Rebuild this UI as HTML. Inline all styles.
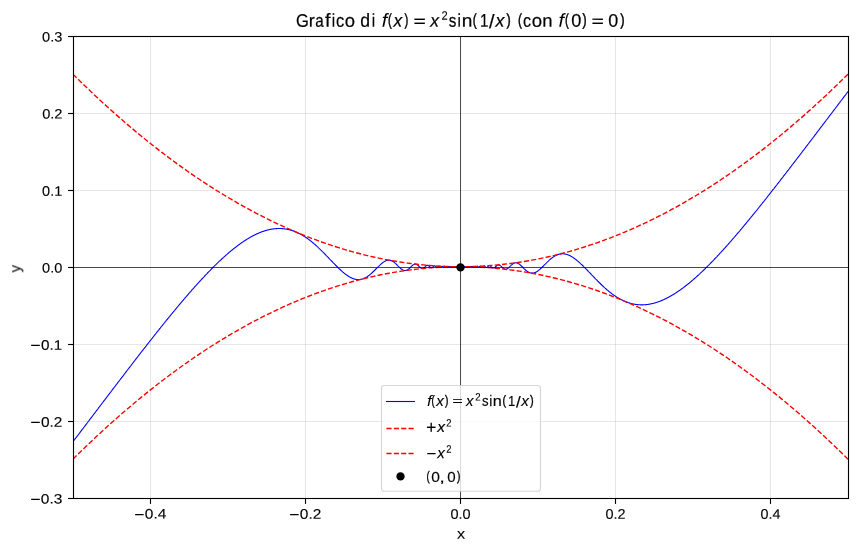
<!DOCTYPE html>
<html><head><meta charset="utf-8"><title>Grafico</title>
<style>
html,body{margin:0;padding:0;background:#fff;}
body{width:857px;height:551px;overflow:hidden;font-family:"Liberation Sans",sans-serif;}
svg{display:block;}
text{font-family:"Liberation Sans",sans-serif;fill:#000;}
</style></head><body>
<svg width="857" height="551" viewBox="0 0 857 551">
<rect width="857" height="551" fill="#fff"/>
<defs><clipPath id="ax"><rect x="73.5" y="36.5" width="775.0" height="462.0"/></clipPath></defs>
<g stroke="#b0b0b0" stroke-opacity="0.3" stroke-width="1.11" fill="none"><line x1="150.5" y1="36.5" x2="150.5" y2="498.5"/><line x1="305.5" y1="36.5" x2="305.5" y2="498.5"/><line x1="460.5" y1="36.5" x2="460.5" y2="498.5"/><line x1="615.5" y1="36.5" x2="615.5" y2="498.5"/><line x1="770.5" y1="36.5" x2="770.5" y2="498.5"/><line x1="73.5" y1="36.5" x2="848.5" y2="36.5"/><line x1="73.5" y1="113.5" x2="848.5" y2="113.5"/><line x1="73.5" y1="190.5" x2="848.5" y2="190.5"/><line x1="73.5" y1="267.5" x2="848.5" y2="267.5"/><line x1="73.5" y1="344.5" x2="848.5" y2="344.5"/><line x1="73.5" y1="421.5" x2="848.5" y2="421.5"/><line x1="73.5" y1="498.5" x2="848.5" y2="498.5"/></g>
<g clip-path="url(#ax)" fill="none">
<path d="M73.0,441.72 73.2,441.38 73.5,441.04 73.7,440.70 74.0,440.36 74.2,440.02 74.5,439.68 74.8,439.34 75.0,439.00 75.3,438.66 75.5,438.32 75.8,437.98 76.1,437.64 76.3,437.30 76.6,436.96 76.8,436.62 77.1,436.28 77.3,435.93 77.6,435.59 77.9,435.25 78.1,434.91 78.4,434.57 78.6,434.23 78.9,433.89 79.2,433.55 79.4,433.21 79.7,432.87 79.9,432.53 80.2,432.19 80.4,431.85 80.7,431.51 81.0,431.17 81.2,430.83 81.5,430.49 81.7,430.15 82.0,429.81 82.3,429.47 82.5,429.13 82.8,428.78 83.0,428.44 83.3,428.10 83.5,427.76 83.8,427.42 84.1,427.08 84.3,426.74 84.6,426.40 84.8,426.06 85.1,425.72 85.4,425.38 85.6,425.04 85.9,424.70 86.1,424.36 86.4,424.02 86.6,423.68 86.9,423.34 87.2,422.99 87.4,422.65 87.7,422.31 87.9,421.97 88.2,421.63 88.5,421.29 88.7,420.95 89.0,420.61 89.2,420.27 89.5,419.93 89.7,419.59 90.0,419.25 90.3,418.91 90.5,418.57 90.8,418.23 91.0,417.89 91.3,417.55 91.6,417.20 91.8,416.86 92.1,416.52 92.3,416.18 92.6,415.84 92.8,415.50 93.1,415.16 93.4,414.82 93.6,414.48 93.9,414.14 94.1,413.80 94.4,413.46 94.7,413.12 94.9,412.78 95.2,412.44 95.4,412.10 95.7,411.76 95.9,411.42 96.2,411.07 96.5,410.73 96.7,410.39 97.0,410.05 97.2,409.71 97.5,409.37 97.8,409.03 98.0,408.69 98.3,408.35 98.5,408.01 98.8,407.67 99.0,407.33 99.3,406.99 99.6,406.65 99.8,406.31 100.1,405.97 100.3,405.63 100.6,405.29 100.8,404.95 101.1,404.61 101.4,404.27 101.6,403.93 101.9,403.59 102.1,403.25 102.4,402.91 102.7,402.57 102.9,402.23 103.2,401.89 103.4,401.55 103.7,401.21 103.9,400.87 104.2,400.53 104.5,400.19 104.7,399.85 105.0,399.51 105.2,399.17 105.5,398.83 105.8,398.49 106.0,398.15 106.3,397.81 106.5,397.47 106.8,397.13 107.0,396.79 107.3,396.45 107.6,396.11 107.8,395.77 108.1,395.43 108.3,395.09 108.6,394.75 108.9,394.41 109.1,394.07 109.4,393.73 109.6,393.39 109.9,393.05 110.1,392.71 110.4,392.37 110.7,392.03 110.9,391.69 111.2,391.35 111.4,391.01 111.7,390.67 112.0,390.34 112.2,390.00 112.5,389.66 112.7,389.32 113.0,388.98 113.2,388.64 113.5,388.30 113.8,387.96 114.0,387.62 114.3,387.28 114.5,386.94 114.8,386.61 115.1,386.27 115.3,385.93 115.6,385.59 115.8,385.25 116.1,384.91 116.3,384.57 116.6,384.23 116.9,383.90 117.1,383.56 117.4,383.22 117.6,382.88 117.9,382.54 118.2,382.20 118.4,381.86 118.7,381.53 118.9,381.19 119.2,380.85 119.5,380.51 119.7,380.17 120.0,379.83 120.2,379.50 120.5,379.16 120.7,378.82 121.0,378.48 121.3,378.14 121.5,377.81 121.8,377.47 122.0,377.13 122.3,376.79 122.6,376.46 122.8,376.12 123.1,375.78 123.3,375.44 123.6,375.11 123.8,374.77 124.1,374.43 124.4,374.09 124.6,373.76 124.9,373.42 125.1,373.08 125.4,372.75 125.7,372.41 125.9,372.07 126.2,371.73 126.4,371.40 126.7,371.06 126.9,370.72 127.2,370.39 127.5,370.05 127.7,369.71 128.0,369.38 128.2,369.04 128.5,368.70 128.8,368.37 129.0,368.03 129.3,367.70 129.5,367.36 129.8,367.02 130.0,366.69 130.3,366.35 130.6,366.02 130.8,365.68 131.1,365.34 131.3,365.01 131.6,364.67 131.9,364.34 132.1,364.00 132.4,363.67 132.6,363.33 132.9,363.00 133.1,362.66 133.4,362.33 133.7,361.99 133.9,361.66 134.2,361.32 134.4,360.99 134.7,360.65 135.0,360.32 135.2,359.98 135.5,359.65 135.7,359.31 136.0,358.98 136.2,358.65 136.5,358.31 136.8,357.98 137.0,357.64 137.3,357.31 137.5,356.98 137.8,356.64 138.1,356.31 138.3,355.98 138.6,355.64 138.8,355.31 139.1,354.98 139.3,354.64 139.6,354.31 139.9,353.98 140.1,353.64 140.4,353.31 140.6,352.98 140.9,352.65 141.1,352.31 141.4,351.98 141.7,351.65 141.9,351.32 142.2,350.98 142.4,350.65 142.7,350.32 143.0,349.99 143.2,349.66 143.5,349.32 143.7,348.99 144.0,348.66 144.2,348.33 144.5,348.00 144.8,347.67 145.0,347.34 145.3,347.01 145.5,346.68 145.8,346.34 146.1,346.01 146.3,345.68 146.6,345.35 146.8,345.02 147.1,344.69 147.3,344.36 147.6,344.03 147.9,343.70 148.1,343.37 148.4,343.04 148.6,342.71 148.9,342.39 149.2,342.06 149.4,341.73 149.7,341.40 149.9,341.07 150.2,340.74 150.4,340.41 150.7,340.08 151.0,339.75 151.2,339.43 151.5,339.10 151.7,338.77 152.0,338.44 152.3,338.12 152.5,337.79 152.8,337.46 153.0,337.13 153.3,336.81 153.5,336.48 153.8,336.15 154.1,335.83 154.3,335.50 154.6,335.17 154.8,334.85 155.1,334.52 155.4,334.19 155.6,333.87 155.9,333.54 156.1,333.22 156.4,332.89 156.6,332.57 156.9,332.24 157.2,331.92 157.4,331.59 157.7,331.27 157.9,330.94 158.2,330.62 158.5,330.29 158.7,329.97 159.0,329.64 159.2,329.32 159.5,329.00 159.8,328.67 160.0,328.35 160.3,328.03 160.5,327.70 160.8,327.38 161.0,327.06 161.3,326.74 161.6,326.41 161.8,326.09 162.1,325.77 162.3,325.45 162.6,325.13 162.8,324.80 163.1,324.48 163.4,324.16 163.6,323.84 163.9,323.52 164.1,323.20 164.4,322.88 164.7,322.56 164.9,322.24 165.2,321.92 165.4,321.60 165.7,321.28 165.9,320.96 166.2,320.64 166.5,320.32 166.7,320.00 167.0,319.69 167.2,319.37 167.5,319.05 167.8,318.73 168.0,318.41 168.3,318.10 168.5,317.78 168.8,317.46 169.1,317.14 169.3,316.83 169.6,316.51 169.8,316.19 170.1,315.88 170.3,315.56 170.6,315.25 170.9,314.93 171.1,314.62 171.4,314.30 171.6,313.99 171.9,313.67 172.2,313.36 172.4,313.04 172.7,312.73 172.9,312.41 173.2,312.10 173.4,311.79 173.7,311.47 174.0,311.16 174.2,310.85 174.5,310.54 174.7,310.22 175.0,309.91 175.2,309.60 175.5,309.29 175.8,308.98 176.0,308.67 176.3,308.35 176.5,308.04 176.8,307.73 177.1,307.42 177.3,307.11 177.6,306.80 177.8,306.49 178.1,306.19 178.4,305.88 178.6,305.57 178.9,305.26 179.1,304.95 179.4,304.64 179.6,304.34 179.9,304.03 180.2,303.72 180.4,303.41 180.7,303.11 180.9,302.80 181.2,302.50 181.5,302.19 181.7,301.88 182.0,301.58 182.2,301.27 182.5,300.97 182.7,300.67 183.0,300.36 183.3,300.06 183.5,299.75 183.8,299.45 184.0,299.15 184.3,298.84 184.6,298.54 184.8,298.24 185.1,297.94 185.3,297.64 185.6,297.34 185.8,297.03 186.1,296.73 186.4,296.43 186.6,296.13 186.9,295.83 187.1,295.53 187.4,295.24 187.7,294.94 187.9,294.64 188.2,294.34 188.4,294.04 188.7,293.74 188.9,293.45 189.2,293.15 189.5,292.85 189.7,292.56 190.0,292.26 190.2,291.97 190.5,291.67 190.8,291.38 191.0,291.08 191.3,290.79 191.5,290.49 191.8,290.20 192.0,289.91 192.3,289.61 192.6,289.32 192.8,289.03 193.1,288.74 193.3,288.44 193.6,288.15 193.9,287.86 194.1,287.57 194.4,287.28 194.6,286.99 194.9,286.70 195.1,286.41 195.4,286.12 195.7,285.84 195.9,285.55 196.2,285.26 196.4,284.97 196.7,284.69 197.0,284.40 197.2,284.11 197.5,283.83 197.7,283.54 198.0,283.26 198.2,282.97 198.5,282.69 198.8,282.41 199.0,282.12 199.3,281.84 199.5,281.56 199.8,281.27 200.1,280.99 200.3,280.71 200.6,280.43 200.8,280.15 201.1,279.87 201.3,279.59 201.6,279.31 201.9,279.03 202.1,278.75 202.4,278.48 202.6,278.20 202.9,277.92 203.2,277.64 203.4,277.37 203.7,277.09 203.9,276.82 204.2,276.54 204.4,276.27 204.7,275.99 205.0,275.72 205.2,275.45 205.5,275.17 205.7,274.90 206.0,274.63 206.2,274.36 206.5,274.09 206.8,273.82 207.0,273.55 207.3,273.28 207.5,273.01 207.8,272.74 208.1,272.47 208.3,272.20 208.6,271.94 208.8,271.67 209.1,271.40 209.4,271.14 209.6,270.87 209.9,270.61 210.1,270.34 210.4,270.08 210.6,269.82 210.9,269.55 211.2,269.29 211.4,269.03 211.7,268.77 211.9,268.51 212.2,268.25 212.4,267.99 212.7,267.73 213.0,267.47 213.2,267.21 213.5,266.96 213.7,266.70 214.0,266.44 214.3,266.19 214.5,265.93 214.8,265.68 215.0,265.42 215.3,265.17 215.6,264.91 215.8,264.66 216.1,264.41 216.3,264.16 216.6,263.91 216.8,263.66 217.1,263.41 217.4,263.16 217.6,262.91 217.9,262.66 218.1,262.41 218.4,262.17 218.6,261.92 218.9,261.68 219.2,261.43 219.4,261.19 219.7,260.94 219.9,260.70 220.2,260.46 220.5,260.21 220.7,259.97 221.0,259.73 221.2,259.49 221.5,259.25 221.8,259.01 222.0,258.77 222.3,258.54 222.5,258.30 222.8,258.06 223.0,257.83 223.3,257.59 223.6,257.36 223.8,257.12 224.1,256.89 224.3,256.66 224.6,256.43 224.9,256.20 225.1,255.96 225.4,255.73 225.6,255.51 225.9,255.28 226.1,255.05 226.4,254.82 226.7,254.60 226.9,254.37 227.2,254.14 227.4,253.92 227.7,253.70 227.9,253.47 228.2,253.25 228.5,253.03 228.7,252.81 229.0,252.59 229.2,252.37 229.5,252.15 229.8,251.93 230.0,251.72 230.3,251.50 230.5,251.28 230.8,251.07 231.0,250.85 231.3,250.64 231.6,250.43 231.8,250.22 232.1,250.00 232.3,249.79 232.6,249.58 232.9,249.38 233.1,249.17 233.4,248.96 233.6,248.75 233.9,248.55 234.1,248.34 234.4,248.14 234.7,247.94 234.9,247.73 235.2,247.53 235.4,247.33 235.7,247.13 236.0,246.93 236.2,246.73 236.5,246.53 236.7,246.34 237.0,246.14 237.2,245.95 237.5,245.75 237.8,245.56 238.0,245.37 238.3,245.17 238.5,244.98 238.8,244.79 239.1,244.60 239.3,244.42 239.6,244.23 239.8,244.04 240.1,243.86 240.3,243.67 240.6,243.49 240.9,243.30 241.1,243.12 241.4,242.94 241.6,242.76 241.9,242.58 242.2,242.40 242.4,242.22 242.7,242.05 242.9,241.87 243.2,241.70 243.4,241.52 243.7,241.35 244.0,241.18 244.2,241.01 244.5,240.84 244.7,240.67 245.0,240.50 245.3,240.33 245.5,240.17 245.8,240.00 246.0,239.84 246.3,239.67 246.6,239.51 246.8,239.35 247.1,239.19 247.3,239.03 247.6,238.87 247.8,238.71 248.1,238.56 248.4,238.40 248.6,238.25 248.9,238.10 249.1,237.94 249.4,237.79 249.6,237.64 249.9,237.49 250.2,237.34 250.4,237.20 250.7,237.05 250.9,236.91 251.2,236.76 251.5,236.62 251.7,236.48 252.0,236.34 252.2,236.20 252.5,236.06 252.8,235.92 253.0,235.79 253.3,235.65 253.5,235.52 253.8,235.38 254.0,235.25 254.3,235.12 254.6,234.99 254.8,234.86 255.1,234.74 255.3,234.61 255.6,234.48 255.8,234.36 256.1,234.24 256.4,234.12 256.6,234.00 256.9,233.88 257.1,233.76 257.4,233.64 257.7,233.53 257.9,233.41 258.2,233.30 258.4,233.19 258.7,233.08 258.9,232.97 259.2,232.86 259.5,232.75 259.7,232.64 260.0,232.54 260.2,232.44 260.5,232.33 260.8,232.23 261.0,232.13 261.3,232.03 261.5,231.94 261.8,231.84 262.1,231.75 262.3,231.65 262.6,231.56 262.8,231.47 263.1,231.38 263.3,231.29 263.6,231.20 263.9,231.12 264.1,231.03 264.4,230.95 264.6,230.87 264.9,230.79 265.1,230.71 265.4,230.63 265.7,230.55 265.9,230.48 266.2,230.40 266.4,230.33 266.7,230.26 267.0,230.19 267.2,230.12 267.5,230.05 267.7,229.99 268.0,229.92 268.2,229.86 268.5,229.80 268.8,229.74 269.0,229.68 269.3,229.62 269.5,229.56 269.8,229.51 270.1,229.46 270.3,229.40 270.6,229.35 270.8,229.31 271.1,229.26 271.4,229.21 271.6,229.17 271.9,229.12 272.1,229.08 272.4,229.04 272.6,229.00 272.9,228.96 273.2,228.93 273.4,228.89 273.7,228.86 273.9,228.83 274.2,228.80 274.4,228.77 274.7,228.74 275.0,228.72 275.2,228.69 275.5,228.67 275.7,228.65 276.0,228.63 276.3,228.61 276.5,228.59 276.8,228.58 277.0,228.57 277.3,228.55 277.6,228.54 277.8,228.53 278.1,228.53 278.3,228.52 278.6,228.52 278.8,228.51 279.1,228.51 279.4,228.51 279.6,228.52 279.9,228.52 280.1,228.53 280.4,228.53 280.7,228.54 280.9,228.55 281.2,228.56 281.4,228.57 281.7,228.59 281.9,228.61 282.2,228.62 282.5,228.64 282.7,228.66 283.0,228.69 283.2,228.71 283.5,228.74 283.8,228.77 284.0,228.80 284.3,228.83 284.5,228.86 284.8,228.89 285.0,228.93 285.3,228.97 285.6,229.01 285.8,229.05 286.1,229.09 286.3,229.13 286.6,229.18 286.9,229.23 287.1,229.28 287.4,229.33 287.6,229.38 287.9,229.43 288.1,229.49 288.4,229.55 288.7,229.61 288.9,229.67 289.2,229.73 289.4,229.80 289.7,229.86 290.0,229.93 290.2,230.00 290.5,230.07 290.7,230.14 291.0,230.22 291.2,230.29 291.5,230.37 291.8,230.45 292.0,230.53 292.3,230.62 292.5,230.70 292.8,230.79 293.1,230.88 293.3,230.97 293.6,231.06 293.8,231.15 294.1,231.25 294.3,231.35 294.6,231.44 294.9,231.55 295.1,231.65 295.4,231.75 295.6,231.86 295.9,231.96 296.1,232.07 296.4,232.18 296.7,232.30 296.9,232.41 297.2,232.53 297.4,232.65 297.7,232.76 298.0,232.89 298.2,233.01 298.5,233.13 298.7,233.26 299.0,233.39 299.2,233.52 299.5,233.65 299.8,233.78 300.0,233.92 300.3,234.05 300.5,234.19 300.8,234.33 301.1,234.47 301.3,234.62 301.6,234.76 301.8,234.91 302.1,235.06 302.3,235.21 302.6,235.36 302.9,235.52 303.1,235.67 303.4,235.83 303.6,235.99 303.9,236.15 304.2,236.31 304.4,236.47 304.7,236.64 304.9,236.81 305.2,236.97 305.4,237.15 305.7,237.32 306.0,237.49 306.2,237.67 306.5,237.84 306.7,238.02 307.0,238.20 307.3,238.38 307.5,238.57 307.8,238.75 308.0,238.94 308.3,239.13 308.6,239.32 308.8,239.51 309.1,239.70 309.3,239.90 309.6,240.09 309.8,240.29 310.1,240.49 310.4,240.69 310.6,240.89 310.9,241.09 311.1,241.30 311.4,241.51 311.6,241.71 311.9,241.92 312.2,242.14 312.4,242.35 312.7,242.56 312.9,242.78 313.2,242.99 313.5,243.21 313.7,243.43 314.0,243.65 314.2,243.87 314.5,244.10 314.8,244.32 315.0,244.55 315.3,244.78 315.5,245.01 315.8,245.24 316.0,245.47 316.3,245.70 316.6,245.93 316.8,246.17 317.1,246.41 317.3,246.64 317.6,246.88 317.9,247.12 318.1,247.36 318.4,247.61 318.6,247.85 318.9,248.09 319.1,248.34 319.4,248.59 319.7,248.83 319.9,249.08 320.2,249.33 320.4,249.58 320.7,249.83 320.9,250.09 321.2,250.34 321.5,250.60 321.7,250.85 322.0,251.11 322.2,251.36 322.5,251.62 322.8,251.88 323.0,252.14 323.3,252.40 323.5,252.66 323.8,252.92 324.1,253.19 324.3,253.45 324.6,253.71 324.8,253.98 325.1,254.24 325.3,254.51 325.6,254.77 325.9,255.04 326.1,255.31 326.4,255.57 326.6,255.84 326.9,256.11 327.2,256.38 327.4,256.65 327.7,256.92 327.9,257.19 328.2,257.46 328.4,257.73 328.7,258.00 329.0,258.27 329.2,258.54 329.5,258.81 329.7,259.08 330.0,259.35 330.2,259.62 330.5,259.89 330.8,260.16 331.0,260.43 331.3,260.70 331.5,260.97 331.8,261.24 332.1,261.51 332.3,261.78 332.6,262.05 332.8,262.32 333.1,262.59 333.4,262.86 333.6,263.13 333.9,263.39 334.1,263.66 334.4,263.92 334.6,264.19 334.9,264.45 335.2,264.72 335.4,264.98 335.7,265.24 335.9,265.51 336.2,265.77 336.4,266.03 336.7,266.28 337.0,266.54 337.2,266.80 337.5,267.05 337.7,267.31 338.0,267.56 338.3,267.81 338.5,268.07 338.8,268.31 339.0,268.56 339.3,268.81 339.5,269.05 339.8,269.30 340.1,269.54 340.3,269.78 340.6,270.02 340.8,270.26 341.1,270.49 341.4,270.73 341.6,270.96 341.9,271.19 342.1,271.42 342.4,271.64 342.6,271.87 342.9,272.09 343.2,272.31 343.4,272.52 343.7,272.74 343.9,272.95 344.2,273.16 344.5,273.37 344.7,273.58 345.0,273.78 345.2,273.98 345.5,274.18 345.8,274.37 346.0,274.56 346.3,274.75 346.5,274.94 346.8,275.12 347.0,275.31 347.3,275.48 347.6,275.66 347.8,275.83 348.1,276.00 348.3,276.16 348.6,276.33 348.8,276.49 349.1,276.64 349.4,276.79 349.6,276.94 349.9,277.09 350.1,277.23 350.4,277.37 350.7,277.50 350.9,277.63 351.2,277.76 351.4,277.88 351.7,278.00 351.9,278.11 352.2,278.23 352.5,278.33 352.7,278.44 353.0,278.53 353.2,278.63 353.5,278.72 353.8,278.81 354.0,278.89 354.3,278.97 354.5,279.04 354.8,279.11 355.0,279.17 355.3,279.23 355.6,279.29 355.8,279.34 356.1,279.38 356.3,279.42 356.6,279.46 356.9,279.49 357.1,279.52 357.4,279.54 357.6,279.56 357.9,279.57 358.1,279.58 358.4,279.58 358.7,279.58 358.9,279.57 359.2,279.56 359.4,279.55 359.7,279.52 360.0,279.50 360.2,279.46 360.5,279.43 360.7,279.38 361.0,279.34 361.2,279.28 361.5,279.23 361.8,279.16 362.0,279.10 362.3,279.02 362.5,278.95 362.8,278.86 363.1,278.77 363.3,278.68 363.6,278.58 363.8,278.48 364.1,278.37 364.3,278.26 364.6,278.14 364.9,278.02 365.1,277.89 365.4,277.75 365.6,277.62 365.9,277.47 366.2,277.33 366.4,277.17 366.7,277.02 366.9,276.86 367.2,276.69 367.4,276.52 367.7,276.34 368.0,276.16 368.2,275.98 368.5,275.79 368.7,275.60 369.0,275.40 369.3,275.20 369.5,275.00 369.8,274.79 370.0,274.58 370.3,274.36 370.6,274.14 370.8,273.92 371.1,273.69 371.3,273.46 371.6,273.23 371.8,273.00 372.1,272.76 372.4,272.52 372.6,272.27 372.9,272.03 373.1,271.78 373.4,271.53 373.6,271.28 373.9,271.02 374.2,270.77 374.4,270.51 374.7,270.25 374.9,269.99 375.2,269.73 375.5,269.47 375.7,269.21 376.0,268.95 376.2,268.68 376.5,268.42 376.8,268.16 377.0,267.90 377.3,267.64 377.5,267.38 377.8,267.12 378.0,266.86 378.3,266.60 378.6,266.35 378.8,266.09 379.1,265.84 379.3,265.59 379.6,265.35 379.9,265.10 380.1,264.86 380.4,264.62 380.6,264.39 380.9,264.16 381.1,263.94 381.4,263.71 381.7,263.50 381.9,263.29 382.2,263.08 382.4,262.88 382.7,262.68 382.9,262.49 383.2,262.31 383.5,262.13 383.7,261.96 384.0,261.79 384.2,261.63 384.5,261.48 384.8,261.34 385.0,261.20 385.3,261.08 385.5,260.96 385.8,260.84 386.1,260.74 386.3,260.65 386.6,260.56 386.8,260.48 387.1,260.41 387.3,260.36 387.6,260.31 387.9,260.27 388.1,260.24 388.4,260.22 388.6,260.21 388.9,260.20 389.1,260.21 389.4,260.23 389.7,260.26 389.9,260.30 390.2,260.35 390.4,260.41 390.7,260.48 391.0,260.57 391.2,260.66 391.5,260.76 391.7,260.87 392.0,260.99 392.2,261.12 392.5,261.26 392.8,261.40 393.0,261.56 393.3,261.73 393.5,261.90 393.8,262.09 394.1,262.28 394.3,262.48 394.6,262.68 394.8,262.90 395.1,263.12 395.3,263.34 395.6,263.57 395.9,263.81 396.1,264.05 396.4,264.30 396.6,264.55 396.9,264.80 397.2,265.06 397.4,265.32 397.7,265.57 397.9,265.83 398.2,266.09 398.4,266.35 398.7,266.61 399.0,266.87 399.2,267.12 399.5,267.37 399.7,267.62 400.0,267.86 400.3,268.09 400.5,268.32 400.8,268.54 401.0,268.76 401.3,268.96 401.5,269.16 401.8,269.35 402.1,269.52 402.3,269.69 402.6,269.84 402.8,269.98 403.1,270.10 403.4,270.21 403.6,270.31 403.9,270.40 404.1,270.46 404.4,270.51 404.6,270.55 404.9,270.57 405.2,270.57 405.4,270.56 405.7,270.52 405.9,270.48 406.2,270.41 406.5,270.33 406.7,270.23 407.0,270.12 407.2,269.99 407.5,269.84 407.8,269.68 408.0,269.51 408.3,269.32 408.5,269.12 408.8,268.91 409.0,268.68 409.3,268.45 409.6,268.21 409.8,267.97 410.1,267.71 410.3,267.46 410.6,267.20 410.8,266.94 411.1,266.68 411.4,266.43 411.6,266.18 411.9,265.93 412.1,265.70 412.4,265.47 412.7,265.26 412.9,265.05 413.2,264.87 413.4,264.70 413.7,264.54 413.9,264.41 414.2,264.30 414.5,264.21 414.7,264.14 415.0,264.10 415.2,264.08 415.5,264.09 415.8,264.12 416.0,264.18 416.3,264.27 416.5,264.37 416.8,264.50 417.1,264.66 417.3,264.83 417.6,265.03 417.8,265.24 418.1,265.46 418.3,265.70 418.6,265.95 418.9,266.20 419.1,266.46 419.4,266.72 419.6,266.97 419.9,267.22 420.1,267.45 420.4,267.67 420.7,267.88 420.9,268.06 421.2,268.21 421.4,268.34 421.7,268.44 422.0,268.50 422.2,268.53 422.5,268.53 422.7,268.49 423.0,268.41 423.2,268.30 423.5,268.16 423.8,267.99 424.0,267.79 424.3,267.57 424.5,267.34 424.8,267.09 425.1,266.83 425.3,266.57 425.6,266.32 425.8,266.09 426.1,265.87 426.4,265.68 426.6,265.52 426.9,265.40 427.1,265.32 427.4,265.29 427.6,265.30 427.9,265.36 428.2,265.47 428.4,265.62 428.7,265.80 428.9,266.02 429.2,266.26 429.4,266.52 429.7,266.77 430.0,267.02 430.2,267.25 430.5,267.45 430.7,267.60 431.0,267.71 431.3,267.76 431.5,267.75 431.8,267.68 432.0,267.55 432.3,267.37 432.6,267.16 432.8,266.91 433.1,266.65 433.3,266.40 433.6,266.18 433.8,266.00 434.1,265.87 434.4,265.82 434.6,265.83 434.9,265.93 435.1,266.09 435.4,266.30 435.7,266.55 435.9,266.81 436.2,267.04 436.4,267.23 436.7,267.35 436.9,267.39 437.2,267.33 437.5,267.19 437.7,266.98 438.0,266.73 438.2,266.48 438.5,266.26 438.7,266.13 439.0,266.09 439.3,266.16 439.5,266.33 439.8,266.57 440.0,266.83 440.3,267.04 440.6,267.16 440.8,267.16 441.1,267.04 441.3,266.82 441.6,266.56 441.8,266.35 442.1,266.25 442.4,266.30 442.6,266.48 442.9,266.73 443.1,266.95 443.4,267.05 443.7,266.98 443.9,266.77 444.2,266.52 444.4,266.37 444.7,266.40 444.9,266.60 445.2,266.84 445.5,266.97 445.7,266.87 446.0,266.64 446.2,266.45 446.5,266.47 446.8,266.69 447.0,266.89 447.3,266.85 447.5,266.61 447.8,266.47 448.0,266.62 448.3,266.84 448.6,266.80 448.8,266.57 449.1,266.55 449.3,266.78 449.6,266.79 449.9,266.57 450.1,266.63 450.4,266.81 450.6,266.63 450.9,266.61 451.1,266.79 451.4,266.60 451.7,266.71 451.9,266.70 452.2,266.64 452.4,266.73 452.7,266.64 453.0,266.70 453.2,266.70 453.5,266.62 453.7,266.72 454.0,266.71 454.2,266.65 454.5,266.63 454.8,266.64 455.0,266.64 455.3,266.66 455.5,266.70 455.8,266.68 456.1,266.69 456.3,266.66 456.6,266.66 456.8,266.69 457.1,266.67 457.3,266.67 457.6,266.69 457.9,266.67 458.1,266.68 458.4,266.68 458.6,266.68 458.9,266.68 459.2,266.68 459.4,266.68 459.7,266.68 459.9,266.68 460.2,266.68 460.4,266.68 460.7,266.68 461.0,266.68 461.2,266.68 461.5,266.68 461.7,266.68 462.0,266.68 462.3,266.68 462.5,266.68 462.8,266.68 463.0,266.69 463.3,266.67 463.6,266.69 463.8,266.69 464.1,266.67 464.3,266.70 464.6,266.70 464.8,266.67 465.1,266.68 465.4,266.66 465.6,266.70 465.9,266.72 466.1,266.72 466.4,266.73 466.6,266.71 466.9,266.65 467.2,266.64 467.4,266.74 467.7,266.66 467.9,266.66 468.2,266.72 468.5,266.63 468.7,266.72 469.0,266.66 469.2,266.65 469.5,266.76 469.8,266.57 470.0,266.75 470.3,266.73 470.5,266.55 470.8,266.73 471.0,266.79 471.3,266.57 471.6,266.58 471.8,266.81 472.1,266.79 472.3,266.56 472.6,266.52 472.9,266.74 473.1,266.89 473.4,266.75 473.6,266.51 473.9,266.47 474.1,266.67 474.4,266.89 474.7,266.91 474.9,266.72 475.2,266.49 475.4,266.39 475.7,266.52 475.9,266.76 476.2,266.96 476.5,266.99 476.7,266.84 477.0,266.59 477.2,266.38 477.5,266.31 477.8,266.41 478.0,266.63 478.3,266.88 478.5,267.06 478.8,267.11 479.1,267.01 479.3,266.80 479.6,266.54 479.8,266.32 480.1,266.20 480.3,266.20 480.6,266.32 480.9,266.53 481.1,266.79 481.4,267.03 481.6,267.20 481.9,267.27 482.2,267.23 482.4,267.10 482.7,266.88 482.9,266.63 483.2,266.38 483.4,266.17 483.7,266.03 484.0,265.97 484.2,266.01 484.5,266.13 484.7,266.32 485.0,266.55 485.2,266.81 485.5,267.06 485.8,267.27 486.0,267.43 486.3,267.53 486.5,267.54 486.8,267.49 487.1,267.36 487.3,267.18 487.6,266.96 487.8,266.71 488.1,266.45 488.4,266.20 488.6,265.99 488.9,265.81 489.1,265.68 489.4,265.61 489.6,265.60 489.9,265.65 490.2,265.76 490.4,265.91 490.7,266.11 490.9,266.34 491.2,266.59 491.4,266.84 491.7,267.10 492.0,267.34 492.2,267.56 492.5,267.74 492.7,267.89 493.0,268.00 493.3,268.06 493.5,268.07 493.8,268.04 494.0,267.96 494.3,267.84 494.6,267.68 494.8,267.49 495.1,267.27 495.3,267.04 495.6,266.79 495.8,266.53 496.1,266.27 496.4,266.02 496.6,265.79 496.9,265.57 497.1,265.37 497.4,265.20 497.7,265.06 497.9,264.95 498.2,264.87 498.4,264.83 498.7,264.83 498.9,264.86 499.2,264.92 499.5,265.02 499.7,265.15 500.0,265.30 500.2,265.48 500.5,265.69 500.8,265.91 501.0,266.14 501.3,266.39 501.5,266.64 501.8,266.90 502.0,267.16 502.3,267.41 502.6,267.66 502.8,267.90 503.1,268.12 503.3,268.33 503.6,268.53 503.9,268.70 504.1,268.86 504.4,268.99 504.6,269.09 504.9,269.18 505.1,269.24 505.4,269.27 505.7,269.28 505.9,269.26 506.2,269.22 506.4,269.15 506.7,269.06 507.0,268.95 507.2,268.82 507.5,268.66 507.7,268.49 508.0,268.31 508.2,268.10 508.5,267.89 508.8,267.66 509.0,267.43 509.3,267.18 509.5,266.93 509.8,266.68 510.0,266.42 510.3,266.16 510.6,265.90 510.8,265.65 511.1,265.39 511.3,265.15 511.6,264.91 511.9,264.68 512.1,264.45 512.4,264.24 512.6,264.04 512.9,263.85 513.1,263.68 513.4,263.52 513.7,263.37 513.9,263.24 514.2,263.13 514.4,263.03 514.7,262.95 515.0,262.88 515.2,262.84 515.5,262.80 515.7,262.79 516.0,262.79 516.2,262.81 516.5,262.85 516.8,262.90 517.0,262.96 517.3,263.05 517.5,263.15 517.8,263.26 518.1,263.38 518.3,263.52 518.6,263.67 518.8,263.84 519.1,264.01 519.4,264.20 519.6,264.40 519.9,264.60 520.1,264.82 520.4,265.04 520.6,265.27 520.9,265.50 521.2,265.74 521.4,265.99 521.7,266.24 521.9,266.49 522.2,266.75 522.4,267.01 522.7,267.27 523.0,267.53 523.2,267.79 523.5,268.04 523.7,268.30 524.0,268.56 524.3,268.81 524.5,269.06 524.8,269.31 525.0,269.55 525.3,269.79 525.5,270.02 525.8,270.24 526.1,270.46 526.3,270.68 526.6,270.88 526.8,271.08 527.1,271.27 527.4,271.46 527.6,271.63 527.9,271.80 528.1,271.96 528.4,272.10 528.6,272.24 528.9,272.37 529.2,272.49 529.4,272.60 529.7,272.70 529.9,272.79 530.2,272.88 530.5,272.95 530.7,273.01 531.0,273.06 531.2,273.10 531.5,273.13 531.8,273.15 532.0,273.16 532.3,273.15 532.5,273.14 532.8,273.12 533.0,273.09 533.3,273.05 533.6,273.00 533.8,272.95 534.1,272.88 534.3,272.80 534.6,272.71 534.9,272.62 535.1,272.52 535.4,272.40 535.6,272.28 535.9,272.16 536.1,272.02 536.4,271.88 536.7,271.73 536.9,271.57 537.2,271.40 537.4,271.23 537.7,271.05 538.0,270.87 538.2,270.68 538.5,270.48 538.7,270.28 539.0,270.07 539.2,269.86 539.5,269.65 539.8,269.42 540.0,269.20 540.3,268.97 540.5,268.74 540.8,268.50 541.0,268.26 541.3,268.01 541.6,267.77 541.8,267.52 542.1,267.27 542.3,267.01 542.6,266.76 542.9,266.50 543.1,266.24 543.4,265.98 543.6,265.72 543.9,265.46 544.1,265.20 544.4,264.94 544.7,264.68 544.9,264.41 545.2,264.15 545.4,263.89 545.7,263.63 546.0,263.37 546.2,263.11 546.5,262.85 546.7,262.59 547.0,262.34 547.2,262.08 547.5,261.83 547.8,261.58 548.0,261.33 548.3,261.09 548.5,260.84 548.8,260.60 549.1,260.36 549.3,260.13 549.6,259.90 549.8,259.67 550.1,259.44 550.4,259.22 550.6,259.00 550.9,258.78 551.1,258.57 551.4,258.36 551.6,258.16 551.9,257.96 552.2,257.76 552.4,257.57 552.7,257.38 552.9,257.20 553.2,257.02 553.5,256.84 553.7,256.67 554.0,256.50 554.2,256.34 554.5,256.19 554.7,256.03 555.0,255.89 555.3,255.74 555.5,255.61 555.8,255.47 556.0,255.34 556.3,255.22 556.6,255.10 556.8,254.99 557.1,254.88 557.3,254.78 557.6,254.68 557.8,254.59 558.1,254.50 558.4,254.41 558.6,254.34 558.9,254.26 559.1,254.20 559.4,254.13 559.6,254.08 559.9,254.02 560.2,253.98 560.4,253.93 560.7,253.90 560.9,253.86 561.2,253.84 561.5,253.81 561.7,253.80 562.0,253.79 562.2,253.78 562.5,253.78 562.8,253.78 563.0,253.79 563.3,253.80 563.5,253.82 563.8,253.84 564.0,253.87 564.3,253.90 564.6,253.94 564.8,253.98 565.1,254.02 565.3,254.07 565.6,254.13 565.9,254.19 566.1,254.25 566.4,254.32 566.6,254.39 566.9,254.47 567.1,254.55 567.4,254.64 567.7,254.73 567.9,254.83 568.2,254.92 568.4,255.03 568.7,255.13 569.0,255.25 569.2,255.36 569.5,255.48 569.7,255.60 570.0,255.73 570.2,255.86 570.5,255.99 570.8,256.13 571.0,256.27 571.3,256.42 571.5,256.57 571.8,256.72 572.1,256.87 572.3,257.03 572.6,257.20 572.8,257.36 573.1,257.53 573.3,257.70 573.6,257.88 573.9,258.05 574.1,258.24 574.4,258.42 574.6,258.61 574.9,258.80 575.1,258.99 575.4,259.18 575.7,259.38 575.9,259.58 576.2,259.78 576.4,259.99 576.7,260.20 577.0,260.41 577.2,260.62 577.5,260.84 577.7,261.05 578.0,261.27 578.2,261.49 578.5,261.72 578.8,261.94 579.0,262.17 579.3,262.40 579.5,262.63 579.8,262.87 580.1,263.10 580.3,263.34 580.6,263.58 580.8,263.82 581.1,264.06 581.4,264.31 581.6,264.55 581.9,264.80 582.1,265.05 582.4,265.29 582.6,265.55 582.9,265.80 583.2,266.05 583.4,266.31 583.7,266.56 583.9,266.82 584.2,267.08 584.5,267.33 584.7,267.59 585.0,267.85 585.2,268.12 585.5,268.38 585.7,268.64 586.0,268.91 586.3,269.17 586.5,269.44 586.8,269.70 587.0,269.97 587.3,270.23 587.6,270.50 587.8,270.77 588.1,271.04 588.3,271.31 588.6,271.58 588.8,271.85 589.1,272.12 589.4,272.39 589.6,272.66 589.9,272.93 590.1,273.20 590.4,273.47 590.7,273.74 590.9,274.01 591.2,274.28 591.4,274.55 591.7,274.82 591.9,275.09 592.2,275.36 592.5,275.63 592.7,275.90 593.0,276.17 593.2,276.44 593.5,276.71 593.8,276.98 594.0,277.25 594.3,277.52 594.5,277.79 594.8,278.05 595.0,278.32 595.3,278.59 595.6,278.85 595.8,279.12 596.1,279.38 596.3,279.65 596.6,279.91 596.9,280.17 597.1,280.44 597.4,280.70 597.6,280.96 597.9,281.22 598.1,281.48 598.4,281.74 598.7,282.00 598.9,282.25 599.2,282.51 599.4,282.76 599.7,283.02 600.0,283.27 600.2,283.53 600.5,283.78 600.7,284.03 601.0,284.28 601.2,284.53 601.5,284.77 601.8,285.02 602.0,285.27 602.3,285.51 602.5,285.75 602.8,286.00 603.1,286.24 603.3,286.48 603.6,286.72 603.8,286.95 604.1,287.19 604.3,287.43 604.6,287.66 604.9,287.89 605.1,288.12 605.4,288.35 605.6,288.58 605.9,288.81 606.1,289.04 606.4,289.26 606.7,289.49 606.9,289.71 607.2,289.93 607.4,290.15 607.7,290.37 608.0,290.58 608.2,290.80 608.5,291.01 608.7,291.22 609.0,291.44 609.2,291.65 609.5,291.85 609.8,292.06 610.0,292.27 610.3,292.47 610.5,292.67 610.8,292.87 611.1,293.07 611.3,293.27 611.6,293.46 611.8,293.66 612.1,293.85 612.4,294.04 612.6,294.23 612.9,294.42 613.1,294.61 613.4,294.79 613.6,294.98 613.9,295.16 614.2,295.34 614.4,295.52 614.7,295.69 614.9,295.87 615.2,296.04 615.5,296.21 615.7,296.39 616.0,296.55 616.2,296.72 616.5,296.89 616.7,297.05 617.0,297.21 617.3,297.37 617.5,297.53 617.8,297.69 618.0,297.84 618.3,298.00 618.6,298.15 618.8,298.30 619.1,298.45 619.3,298.60 619.6,298.74 619.8,298.89 620.1,299.03 620.4,299.17 620.6,299.31 620.9,299.44 621.1,299.58 621.4,299.71 621.6,299.84 621.9,299.97 622.2,300.10 622.4,300.23 622.7,300.35 622.9,300.47 623.2,300.60 623.5,300.71 623.7,300.83 624.0,300.95 624.2,301.06 624.5,301.18 624.8,301.29 625.0,301.40 625.3,301.50 625.5,301.61 625.8,301.71 626.0,301.81 626.3,301.92 626.6,302.01 626.8,302.11 627.1,302.21 627.3,302.30 627.6,302.39 627.9,302.48 628.1,302.57 628.4,302.66 628.6,302.74 628.9,302.83 629.1,302.91 629.4,302.99 629.7,303.07 629.9,303.14 630.2,303.22 630.4,303.29 630.7,303.36 631.0,303.43 631.2,303.50 631.5,303.56 631.7,303.63 632.0,303.69 632.2,303.75 632.5,303.81 632.8,303.87 633.0,303.93 633.3,303.98 633.5,304.03 633.8,304.08 634.1,304.13 634.3,304.18 634.6,304.23 634.8,304.27 635.1,304.31 635.3,304.35 635.6,304.39 635.9,304.43 636.1,304.47 636.4,304.50 636.6,304.53 636.9,304.56 637.1,304.59 637.4,304.62 637.7,304.65 637.9,304.67 638.2,304.70 638.4,304.72 638.7,304.74 639.0,304.75 639.2,304.77 639.5,304.79 639.7,304.80 640.0,304.81 640.2,304.82 640.5,304.83 640.8,304.83 641.0,304.84 641.3,304.84 641.5,304.85 641.8,304.85 642.1,304.85 642.3,304.84 642.6,304.84 642.8,304.83 643.1,304.83 643.4,304.82 643.6,304.81 643.9,304.79 644.1,304.78 644.4,304.77 644.6,304.75 644.9,304.73 645.2,304.71 645.4,304.69 645.7,304.67 645.9,304.64 646.2,304.62 646.5,304.59 646.7,304.56 647.0,304.53 647.2,304.50 647.5,304.47 647.7,304.43 648.0,304.40 648.3,304.36 648.5,304.32 648.8,304.28 649.0,304.24 649.3,304.19 649.6,304.15 649.8,304.10 650.1,304.05 650.3,304.01 650.6,303.96 650.8,303.90 651.1,303.85 651.4,303.80 651.6,303.74 651.9,303.68 652.1,303.62 652.4,303.56 652.7,303.50 652.9,303.44 653.2,303.37 653.4,303.31 653.7,303.24 653.9,303.17 654.2,303.10 654.5,303.03 654.7,302.96 655.0,302.88 655.2,302.81 655.5,302.73 655.8,302.65 656.0,302.57 656.3,302.49 656.5,302.41 656.8,302.33 657.0,302.24 657.3,302.16 657.6,302.07 657.8,301.98 658.1,301.89 658.3,301.80 658.6,301.71 658.9,301.61 659.1,301.52 659.4,301.42 659.6,301.33 659.9,301.23 660.1,301.13 660.4,301.03 660.7,300.92 660.9,300.82 661.2,300.72 661.4,300.61 661.7,300.50 662.0,300.39 662.2,300.28 662.5,300.17 662.7,300.06 663.0,299.95 663.2,299.83 663.5,299.72 663.8,299.60 664.0,299.48 664.3,299.36 664.5,299.24 664.8,299.12 665.1,299.00 665.3,298.88 665.6,298.75 665.8,298.62 666.1,298.50 666.3,298.37 666.6,298.24 666.9,298.11 667.1,297.98 667.4,297.84 667.6,297.71 667.9,297.57 668.2,297.44 668.4,297.30 668.7,297.16 668.9,297.02 669.2,296.88 669.4,296.74 669.7,296.60 670.0,296.45 670.2,296.31 670.5,296.16 670.7,296.02 671.0,295.87 671.3,295.72 671.5,295.57 671.8,295.42 672.0,295.26 672.3,295.11 672.5,294.96 672.8,294.80 673.1,294.65 673.3,294.49 673.6,294.33 673.8,294.17 674.1,294.01 674.4,293.85 674.6,293.69 674.9,293.52 675.1,293.36 675.4,293.19 675.6,293.03 675.9,292.86 676.2,292.69 676.4,292.52 676.7,292.35 676.9,292.18 677.2,292.01 677.5,291.84 677.7,291.66 678.0,291.49 678.2,291.31 678.5,291.14 678.7,290.96 679.0,290.78 679.3,290.60 679.5,290.42 679.8,290.24 680.0,290.06 680.3,289.87 680.6,289.69 680.8,289.50 681.1,289.32 681.3,289.13 681.6,288.94 681.8,288.76 682.1,288.57 682.4,288.38 682.6,288.19 682.9,287.99 683.1,287.80 683.4,287.61 683.7,287.41 683.9,287.22 684.2,287.02 684.4,286.83 684.7,286.63 684.9,286.43 685.2,286.23 685.5,286.03 685.7,285.83 686.0,285.63 686.2,285.42 686.5,285.22 686.8,285.02 687.0,284.81 687.3,284.61 687.5,284.40 687.8,284.19 688.0,283.98 688.3,283.78 688.6,283.57 688.8,283.36 689.1,283.14 689.3,282.93 689.6,282.72 689.9,282.51 690.1,282.29 690.4,282.08 690.6,281.86 690.9,281.64 691.1,281.43 691.4,281.21 691.7,280.99 691.9,280.77 692.2,280.55 692.4,280.33 692.7,280.11 693.0,279.89 693.2,279.66 693.5,279.44 693.7,279.22 694.0,278.99 694.2,278.76 694.5,278.54 694.8,278.31 695.0,278.08 695.3,277.85 695.5,277.63 695.8,277.40 696.1,277.16 696.3,276.93 696.6,276.70 696.8,276.47 697.1,276.24 697.3,276.00 697.6,275.77 697.9,275.53 698.1,275.30 698.4,275.06 698.6,274.82 698.9,274.59 699.2,274.35 699.4,274.11 699.7,273.87 699.9,273.63 700.2,273.39 700.4,273.15 700.7,272.90 701.0,272.66 701.2,272.42 701.5,272.17 701.7,271.93 702.0,271.68 702.3,271.44 702.5,271.19 702.8,270.95 703.0,270.70 703.3,270.45 703.5,270.20 703.8,269.95 704.1,269.70 704.3,269.45 704.6,269.20 704.8,268.95 705.1,268.70 705.4,268.45 705.6,268.19 705.9,267.94 706.1,267.68 706.4,267.43 706.6,267.17 706.9,266.92 707.2,266.66 707.4,266.40 707.7,266.15 707.9,265.89 708.2,265.63 708.5,265.37 708.7,265.11 709.0,264.85 709.2,264.59 709.5,264.33 709.7,264.07 710.0,263.81 710.3,263.54 710.5,263.28 710.8,263.02 711.0,262.75 711.3,262.49 711.5,262.22 711.8,261.96 712.1,261.69 712.3,261.42 712.6,261.16 712.8,260.89 713.1,260.62 713.4,260.35 713.6,260.08 713.9,259.81 714.1,259.54 714.4,259.27 714.6,259.00 714.9,258.73 715.2,258.46 715.4,258.19 715.7,257.91 715.9,257.64 716.2,257.37 716.5,257.09 716.7,256.82 717.0,256.54 717.2,256.27 717.5,255.99 717.8,255.72 718.0,255.44 718.3,255.16 718.5,254.88 718.8,254.61 719.0,254.33 719.3,254.05 719.6,253.77 719.8,253.49 720.1,253.21 720.3,252.93 720.6,252.65 720.9,252.37 721.1,252.09 721.4,251.80 721.6,251.52 721.9,251.24 722.1,250.95 722.4,250.67 722.7,250.39 722.9,250.10 723.2,249.82 723.4,249.53 723.7,249.25 724.0,248.96 724.2,248.67 724.5,248.39 724.7,248.10 725.0,247.81 725.2,247.52 725.5,247.24 725.8,246.95 726.0,246.66 726.3,246.37 726.5,246.08 726.8,245.79 727.1,245.50 727.3,245.21 727.6,244.92 727.8,244.62 728.1,244.33 728.3,244.04 728.6,243.75 728.9,243.45 729.1,243.16 729.4,242.87 729.6,242.57 729.9,242.28 730.1,241.98 730.4,241.69 730.7,241.39 730.9,241.10 731.2,240.80 731.4,240.51 731.7,240.21 732.0,239.91 732.2,239.62 732.5,239.32 732.7,239.02 733.0,238.72 733.2,238.42 733.5,238.12 733.8,237.83 734.0,237.53 734.3,237.23 734.5,236.93 734.8,236.63 735.1,236.33 735.3,236.02 735.6,235.72 735.8,235.42 736.1,235.12 736.4,234.82 736.6,234.52 736.9,234.21 737.1,233.91 737.4,233.61 737.6,233.30 737.9,233.00 738.2,232.69 738.4,232.39 738.7,232.09 738.9,231.78 739.2,231.48 739.5,231.17 739.7,230.86 740.0,230.56 740.2,230.25 740.5,229.95 740.7,229.64 741.0,229.33 741.3,229.02 741.5,228.72 741.8,228.41 742.0,228.10 742.3,227.79 742.6,227.48 742.8,227.17 743.1,226.87 743.3,226.56 743.6,226.25 743.8,225.94 744.1,225.63 744.4,225.32 744.6,225.01 744.9,224.69 745.1,224.38 745.4,224.07 745.7,223.76 745.9,223.45 746.2,223.14 746.4,222.82 746.7,222.51 746.9,222.20 747.2,221.89 747.5,221.57 747.7,221.26 748.0,220.95 748.2,220.63 748.5,220.32 748.8,220.00 749.0,219.69 749.3,219.37 749.5,219.06 749.8,218.74 750.0,218.43 750.3,218.11 750.6,217.80 750.8,217.48 751.1,217.17 751.3,216.85 751.6,216.53 751.9,216.22 752.1,215.90 752.4,215.58 752.6,215.26 752.9,214.95 753.1,214.63 753.4,214.31 753.7,213.99 753.9,213.67 754.2,213.36 754.4,213.04 754.7,212.72 755.0,212.40 755.2,212.08 755.5,211.76 755.7,211.44 756.0,211.12 756.2,210.80 756.5,210.48 756.8,210.16 757.0,209.84 757.3,209.52 757.5,209.20 757.8,208.88 758.1,208.56 758.3,208.23 758.6,207.91 758.8,207.59 759.1,207.27 759.3,206.95 759.6,206.62 759.9,206.30 760.1,205.98 760.4,205.66 760.6,205.33 760.9,205.01 761.2,204.69 761.4,204.36 761.7,204.04 761.9,203.72 762.2,203.39 762.4,203.07 762.7,202.74 763.0,202.42 763.2,202.09 763.5,201.77 763.7,201.44 764.0,201.12 764.3,200.79 764.5,200.47 764.8,200.14 765.0,199.82 765.3,199.49 765.5,199.17 765.8,198.84 766.1,198.51 766.3,198.19 766.6,197.86 766.8,197.53 767.1,197.21 767.4,196.88 767.6,196.55 767.9,196.23 768.1,195.90 768.4,195.57 768.6,195.24 768.9,194.92 769.2,194.59 769.4,194.26 769.7,193.93 769.9,193.61 770.2,193.28 770.5,192.95 770.7,192.62 771.0,192.29 771.2,191.96 771.5,191.63 771.7,191.30 772.0,190.97 772.3,190.65 772.5,190.32 772.8,189.99 773.0,189.66 773.3,189.33 773.6,189.00 773.8,188.67 774.1,188.34 774.3,188.01 774.6,187.68 774.8,187.35 775.1,187.02 775.4,186.68 775.6,186.35 775.9,186.02 776.1,185.69 776.4,185.36 776.7,185.03 776.9,184.70 777.2,184.37 777.4,184.04 777.7,183.70 777.9,183.37 778.2,183.04 778.5,182.71 778.7,182.38 779.0,182.04 779.2,181.71 779.5,181.38 779.8,181.05 780.0,180.71 780.3,180.38 780.5,180.05 780.8,179.72 781.0,179.38 781.3,179.05 781.6,178.72 781.8,178.38 782.1,178.05 782.3,177.72 782.6,177.38 782.9,177.05 783.1,176.72 783.4,176.38 783.6,176.05 783.9,175.72 784.1,175.38 784.4,175.05 784.7,174.71 784.9,174.38 785.2,174.05 785.4,173.71 785.7,173.38 786.0,173.04 786.2,172.71 786.5,172.37 786.7,172.04 787.0,171.70 787.2,171.37 787.5,171.03 787.8,170.70 788.0,170.36 788.3,170.03 788.5,169.69 788.8,169.36 789.1,169.02 789.3,168.69 789.6,168.35 789.8,168.02 790.1,167.68 790.3,167.34 790.6,167.01 790.9,166.67 791.1,166.34 791.4,166.00 791.6,165.66 791.9,165.33 792.2,164.99 792.4,164.66 792.7,164.32 792.9,163.98 793.2,163.65 793.4,163.31 793.7,162.97 794.0,162.64 794.2,162.30 794.5,161.96 794.7,161.63 795.0,161.29 795.3,160.95 795.5,160.61 795.8,160.28 796.0,159.94 796.3,159.60 796.5,159.27 796.8,158.93 797.1,158.59 797.3,158.25 797.6,157.92 797.8,157.58 798.1,157.24 798.4,156.90 798.6,156.57 798.9,156.23 799.1,155.89 799.4,155.55 799.6,155.22 799.9,154.88 800.2,154.54 800.4,154.20 800.7,153.86 800.9,153.53 801.2,153.19 801.5,152.85 801.7,152.51 802.0,152.17 802.2,151.83 802.5,151.50 802.7,151.16 803.0,150.82 803.3,150.48 803.5,150.14 803.8,149.80 804.0,149.46 804.3,149.13 804.5,148.79 804.8,148.45 805.1,148.11 805.3,147.77 805.6,147.43 805.8,147.09 806.1,146.75 806.4,146.42 806.6,146.08 806.9,145.74 807.1,145.40 807.4,145.06 807.6,144.72 807.9,144.38 808.2,144.04 808.4,143.70 808.7,143.36 808.9,143.02 809.2,142.69 809.5,142.35 809.7,142.01 810.0,141.67 810.2,141.33 810.5,140.99 810.8,140.65 811.0,140.31 811.3,139.97 811.5,139.63 811.8,139.29 812.0,138.95 812.3,138.61 812.6,138.27 812.8,137.93 813.1,137.59 813.3,137.25 813.6,136.91 813.9,136.57 814.1,136.23 814.4,135.89 814.6,135.55 814.9,135.21 815.1,134.87 815.4,134.53 815.7,134.19 815.9,133.85 816.2,133.51 816.4,133.17 816.7,132.83 817.0,132.49 817.2,132.15 817.5,131.81 817.7,131.47 818.0,131.13 818.2,130.79 818.5,130.45 818.8,130.11 819.0,129.77 819.3,129.43 819.5,129.09 819.8,128.75 820.1,128.41 820.3,128.07 820.6,127.73 820.8,127.39 821.1,127.05 821.3,126.71 821.6,126.37 821.9,126.03 822.1,125.69 822.4,125.35 822.6,125.01 822.9,124.67 823.1,124.33 823.4,123.99 823.7,123.65 823.9,123.31 824.2,122.97 824.4,122.63 824.7,122.29 825.0,121.94 825.2,121.60 825.5,121.26 825.7,120.92 826.0,120.58 826.2,120.24 826.5,119.90 826.8,119.56 827.0,119.22 827.3,118.88 827.5,118.54 827.8,118.20 828.1,117.86 828.3,117.52 828.6,117.18 828.8,116.84 829.1,116.50 829.4,116.16 829.6,115.81 829.9,115.47 830.1,115.13 830.4,114.79 830.6,114.45 830.9,114.11 831.2,113.77 831.4,113.43 831.7,113.09 831.9,112.75 832.2,112.41 832.5,112.07 832.7,111.73 833.0,111.39 833.2,111.05 833.5,110.71 833.7,110.37 834.0,110.02 834.3,109.68 834.5,109.34 834.8,109.00 835.0,108.66 835.3,108.32 835.6,107.98 835.8,107.64 836.1,107.30 836.3,106.96 836.6,106.62 836.8,106.28 837.1,105.94 837.4,105.60 837.6,105.26 837.9,104.92 838.1,104.58 838.4,104.23 838.7,103.89 838.9,103.55 839.2,103.21 839.4,102.87 839.7,102.53 839.9,102.19 840.2,101.85 840.5,101.51 840.7,101.17 841.0,100.83 841.2,100.49 841.5,100.15 841.8,99.81 842.0,99.47 842.3,99.13 842.5,98.79 842.8,98.45 843.0,98.11 843.3,97.77 843.6,97.43 843.8,97.08 844.1,96.74 844.3,96.40 844.6,96.06 844.9,95.72 845.1,95.38 845.4,95.04 845.6,94.70 845.9,94.36 846.1,94.02 846.4,93.68 846.7,93.34 846.9,93.00 847.2,92.66 847.4,92.32 847.7,91.98 848.0,91.64" stroke="#0000ff" stroke-width="1.11" stroke-linejoin="round"/>
<path d="M72.95,74.18 76.05,77.25 79.15,80.29 82.25,83.31 85.35,86.30 88.45,89.27 91.55,92.22 94.65,95.14 97.75,98.03 100.85,100.90 103.95,103.75 107.05,106.57 110.15,109.37 113.25,112.14 116.35,114.89 119.45,117.61 122.55,120.31 125.65,122.98 128.75,125.63 131.85,128.25 134.95,130.85 138.05,133.43 141.15,135.98 144.25,138.50 147.35,141.00 150.45,143.48 153.55,145.93 156.65,148.36 159.75,150.76 162.85,153.14 165.95,155.49 169.05,157.82 172.15,160.12 175.25,162.40 178.35,164.66 181.45,166.89 184.55,169.09 187.65,171.27 190.75,173.43 193.85,175.56 196.95,177.67 200.05,179.75 203.15,181.81 206.25,183.84 209.35,185.85 212.45,187.83 215.55,189.79 218.65,191.73 221.75,193.63 224.85,195.52 227.95,197.38 231.05,199.22 234.15,201.03 237.25,202.81 240.35,204.57 243.45,206.31 246.55,208.02 249.65,209.71 252.75,211.38 255.85,213.01 258.95,214.63 262.05,216.22 265.15,217.78 268.25,219.32 271.35,220.84 274.45,222.33 277.55,223.79 280.65,225.24 283.75,226.65 286.85,228.04 289.95,229.41 293.05,230.75 296.15,232.07 299.25,233.37 302.35,234.64 305.45,235.88 308.55,237.10 311.65,238.29 314.75,239.47 317.85,240.61 320.95,241.73 324.05,242.83 327.15,243.90 330.25,244.95 333.35,245.97 336.45,246.97 339.55,247.94 342.65,248.89 345.75,249.81 348.85,250.71 351.95,251.59 355.05,252.44 358.15,253.26 361.25,254.06 364.35,254.84 367.45,255.59 370.55,256.32 373.65,257.02 376.75,257.70 379.85,258.35 382.95,258.98 386.05,259.58 389.15,260.16 392.25,260.72 395.35,261.25 398.45,261.75 401.55,262.23 404.65,262.69 407.75,263.12 410.85,263.53 413.95,263.91 417.05,264.27 420.15,264.60 423.25,264.91 426.35,265.19 429.45,265.45 432.55,265.68 435.65,265.89 438.75,266.08 441.85,266.24 444.95,266.37 448.05,266.48 451.15,266.57 454.25,266.63 457.35,266.67 460.45,266.68 463.55,266.67 466.65,266.63 469.75,266.57 472.85,266.48 475.95,266.37 479.05,266.24 482.15,266.08 485.25,265.89 488.35,265.68 491.45,265.45 494.55,265.19 497.65,264.91 500.75,264.60 503.85,264.27 506.95,263.91 510.05,263.53 513.15,263.12 516.25,262.69 519.35,262.23 522.45,261.75 525.55,261.25 528.65,260.72 531.75,260.16 534.85,259.58 537.95,258.98 541.05,258.35 544.15,257.70 547.25,257.02 550.35,256.32 553.45,255.59 556.55,254.84 559.65,254.06 562.75,253.26 565.85,252.44 568.95,251.59 572.05,250.71 575.15,249.81 578.25,248.89 581.35,247.94 584.45,246.97 587.55,245.97 590.65,244.95 593.75,243.90 596.85,242.83 599.95,241.73 603.05,240.61 606.15,239.47 609.25,238.29 612.35,237.10 615.45,235.88 618.55,234.64 621.65,233.37 624.75,232.07 627.85,230.75 630.95,229.41 634.05,228.04 637.15,226.65 640.25,225.24 643.35,223.79 646.45,222.33 649.55,220.84 652.65,219.32 655.75,217.78 658.85,216.22 661.95,214.63 665.05,213.01 668.15,211.38 671.25,209.71 674.35,208.02 677.45,206.31 680.55,204.57 683.65,202.81 686.75,201.03 689.85,199.22 692.95,197.38 696.05,195.52 699.15,193.63 702.25,191.73 705.35,189.79 708.45,187.83 711.55,185.85 714.65,183.84 717.75,181.81 720.85,179.75 723.95,177.67 727.05,175.56 730.15,173.43 733.25,171.27 736.35,169.09 739.45,166.89 742.55,164.66 745.65,162.40 748.75,160.12 751.85,157.82 754.95,155.49 758.05,153.14 761.15,150.76 764.25,148.36 767.35,145.93 770.45,143.48 773.55,141.00 776.65,138.50 779.75,135.98 782.85,133.43 785.95,130.85 789.05,128.25 792.15,125.63 795.25,122.98 798.35,120.31 801.45,117.61 804.55,114.89 807.65,112.14 810.75,109.37 813.85,106.57 816.95,103.75 820.05,100.90 823.15,98.03 826.25,95.14 829.35,92.22 832.45,89.27 835.55,86.30 838.65,83.31 841.75,80.29 844.85,77.25 847.95,74.18" stroke="#ff0000" stroke-width="1.39" stroke-dasharray="5.14 2.22"/>
<path d="M72.95,459.18 76.05,456.11 79.15,453.07 82.25,450.05 85.35,447.06 88.45,444.09 91.55,441.14 94.65,438.22 97.75,435.33 100.85,432.46 103.95,429.61 107.05,426.79 110.15,423.99 113.25,421.22 116.35,418.47 119.45,415.75 122.55,413.05 125.65,410.38 128.75,407.73 131.85,405.11 134.95,402.51 138.05,399.93 141.15,397.38 144.25,394.86 147.35,392.36 150.45,389.88 153.55,387.43 156.65,385.00 159.75,382.60 162.85,380.22 165.95,377.87 169.05,375.54 172.15,373.24 175.25,370.96 178.35,368.70 181.45,366.47 184.55,364.27 187.65,362.09 190.75,359.93 193.85,357.80 196.95,355.69 200.05,353.61 203.15,351.55 206.25,349.52 209.35,347.51 212.45,345.53 215.55,343.57 218.65,341.63 221.75,339.73 224.85,337.84 227.95,335.98 231.05,334.14 234.15,332.33 237.25,330.55 240.35,328.79 243.45,327.05 246.55,325.34 249.65,323.65 252.75,321.98 255.85,320.35 258.95,318.73 262.05,317.14 265.15,315.58 268.25,314.04 271.35,312.52 274.45,311.03 277.55,309.57 280.65,308.12 283.75,306.71 286.85,305.32 289.95,303.95 293.05,302.61 296.15,301.29 299.25,299.99 302.35,298.72 305.45,297.48 308.55,296.26 311.65,295.07 314.75,293.89 317.85,292.75 320.95,291.63 324.05,290.53 327.15,289.46 330.25,288.41 333.35,287.39 336.45,286.39 339.55,285.42 342.65,284.47 345.75,283.55 348.85,282.65 351.95,281.77 355.05,280.92 358.15,280.10 361.25,279.30 364.35,278.52 367.45,277.77 370.55,277.04 373.65,276.34 376.75,275.66 379.85,275.01 382.95,274.38 386.05,273.78 389.15,273.20 392.25,272.64 395.35,272.11 398.45,271.61 401.55,271.13 404.65,270.67 407.75,270.24 410.85,269.83 413.95,269.45 417.05,269.09 420.15,268.76 423.25,268.45 426.35,268.17 429.45,267.91 432.55,267.68 435.65,267.47 438.75,267.28 441.85,267.12 444.95,266.99 448.05,266.88 451.15,266.79 454.25,266.73 457.35,266.69 460.45,266.68 463.55,266.69 466.65,266.73 469.75,266.79 472.85,266.88 475.95,266.99 479.05,267.12 482.15,267.28 485.25,267.47 488.35,267.68 491.45,267.91 494.55,268.17 497.65,268.45 500.75,268.76 503.85,269.09 506.95,269.45 510.05,269.83 513.15,270.24 516.25,270.67 519.35,271.13 522.45,271.61 525.55,272.11 528.65,272.64 531.75,273.20 534.85,273.78 537.95,274.38 541.05,275.01 544.15,275.66 547.25,276.34 550.35,277.04 553.45,277.77 556.55,278.52 559.65,279.30 562.75,280.10 565.85,280.92 568.95,281.77 572.05,282.65 575.15,283.55 578.25,284.47 581.35,285.42 584.45,286.39 587.55,287.39 590.65,288.41 593.75,289.46 596.85,290.53 599.95,291.63 603.05,292.75 606.15,293.89 609.25,295.07 612.35,296.26 615.45,297.48 618.55,298.72 621.65,299.99 624.75,301.29 627.85,302.61 630.95,303.95 634.05,305.32 637.15,306.71 640.25,308.12 643.35,309.57 646.45,311.03 649.55,312.52 652.65,314.04 655.75,315.58 658.85,317.14 661.95,318.73 665.05,320.35 668.15,321.98 671.25,323.65 674.35,325.34 677.45,327.05 680.55,328.79 683.65,330.55 686.75,332.33 689.85,334.14 692.95,335.98 696.05,337.84 699.15,339.73 702.25,341.63 705.35,343.57 708.45,345.53 711.55,347.51 714.65,349.52 717.75,351.55 720.85,353.61 723.95,355.69 727.05,357.80 730.15,359.93 733.25,362.09 736.35,364.27 739.45,366.47 742.55,368.70 745.65,370.96 748.75,373.24 751.85,375.54 754.95,377.87 758.05,380.22 761.15,382.60 764.25,385.00 767.35,387.43 770.45,389.88 773.55,392.36 776.65,394.86 779.75,397.38 782.85,399.93 785.95,402.51 789.05,405.11 792.15,407.73 795.25,410.38 798.35,413.05 801.45,415.75 804.55,418.47 807.65,421.22 810.75,423.99 813.85,426.79 816.95,429.61 820.05,432.46 823.15,435.33 826.25,438.22 829.35,441.14 832.45,444.09 835.55,447.06 838.65,450.05 841.75,453.07 844.85,456.11 847.95,459.18" stroke="#ff0000" stroke-width="1.39" stroke-dasharray="5.14 2.22"/>
<line x1="73.5" y1="267.5" x2="848.5" y2="267.5" stroke="#000" stroke-width="0.69"/>
<line x1="460.5" y1="36.5" x2="460.5" y2="498.5" stroke="#000" stroke-width="0.69"/>
<circle cx="460.5" cy="267.4" r="4.17" fill="#000"/>
</g>
<g stroke="#000" stroke-width="1.11" fill="none"><line x1="150.5" y1="498.5" x2="150.5" y2="503.91"/><line x1="305.5" y1="498.5" x2="305.5" y2="503.91"/><line x1="460.5" y1="498.5" x2="460.5" y2="503.91"/><line x1="615.5" y1="498.5" x2="615.5" y2="503.91"/><line x1="770.5" y1="498.5" x2="770.5" y2="503.91"/><line x1="68.09" y1="36.5" x2="73.5" y2="36.5"/><line x1="68.09" y1="113.5" x2="73.5" y2="113.5"/><line x1="68.09" y1="190.5" x2="73.5" y2="190.5"/><line x1="68.09" y1="267.5" x2="73.5" y2="267.5"/><line x1="68.09" y1="344.5" x2="73.5" y2="344.5"/><line x1="68.09" y1="421.5" x2="73.5" y2="421.5"/><line x1="68.09" y1="498.5" x2="73.5" y2="498.5"/>
<rect x="73.5" y="36.5" width="775.0" height="462.0"/></g>
<!-- legend -->
<rect x="381.5" y="385.5" width="158.95" height="105.7" rx="2.78" ry="2.78" fill="#fff" fill-opacity="0.8" stroke="#cccccc" stroke-opacity="0.8" stroke-width="1.11"/>
<line x1="386.5" y1="401.5" x2="414.5" y2="401.5" stroke="#0000ff" stroke-width="1.11" stroke-linecap="square"/>
<line x1="386.45" y1="428.5" x2="414.3" y2="428.5" stroke="#ff0000" stroke-width="1.39" stroke-dasharray="5.14 2.22"/>
<line x1="386.45" y1="453.45" x2="414.3" y2="453.45" stroke="#ff0000" stroke-width="1.39" stroke-dasharray="5.14 2.22"/>
<circle cx="400.5" cy="476.4" r="4.17" fill="#000"/>
<g opacity="0.999" text-rendering="geometricPrecision">
<text transform="translate(295.90,26.68) rotate(0.07) scale(0.9582,1.0521)" font-size="17.30" stroke="#000" stroke-width="0.2">G</text>
<text transform="translate(308.65,26.80) rotate(0.07) scale(1.0548,1.0528)" font-size="17.30" stroke="#000" stroke-width="0.2">r</text>
<text transform="translate(315.23,26.64) rotate(0.07) scale(0.8800,1.0585)" font-size="17.30" stroke="#000" stroke-width="0.2">a</text>
<text transform="translate(325.03,26.79) rotate(0.07) scale(1.1500,1.0966)" font-size="17.30" stroke="#000" stroke-width="0.2">f</text>
<text transform="translate(331.75,26.79) rotate(0.07) scale(0.8800,1.0766)" font-size="17.30" stroke="#000" stroke-width="0.2">i</text>
<text transform="translate(335.88,26.74) rotate(0.07) scale(0.9496,1.0593)" font-size="17.30" stroke="#000" stroke-width="0.2">c</text>
<text transform="translate(344.79,26.67) rotate(0.07) scale(1.0692,1.0516)" font-size="17.30" stroke="#000" stroke-width="0.2">o</text>
<text transform="translate(360.13,26.76) rotate(0.07) scale(1.0190,1.0919)" font-size="17.30" stroke="#000" stroke-width="0.2">d</text>
<text transform="translate(371.75,26.79) rotate(0.07) scale(0.8800,1.0766)" font-size="17.30" stroke="#000" stroke-width="0.2">i</text>
<text transform="translate(381.73,26.83) rotate(0.07) scale(1.1500,1.0942)" font-size="17.30" font-style="italic">f</text>
<text transform="translate(388.04,25.29) rotate(0.07) scale(0.6446,0.9470)" font-size="17.30" stroke="#000" stroke-width="0.5">(</text>
<text transform="translate(393.55,26.82) rotate(0.07) scale(1.0008,1.0543)" font-size="17.30" font-style="italic" stroke="#000" stroke-width="0.2">x</text>
<text transform="translate(404.58,25.19) rotate(0.07) scale(0.6613,0.9419)" font-size="17.30" stroke="#000" stroke-width="0.5">)</text>
<text transform="translate(413.56,26.86) rotate(0.07) scale(1.2223,0.9517)" font-size="17.30" stroke="#000" stroke-width="0.2">=</text>
<text transform="translate(430.36,26.86) rotate(0.07) scale(1.0127,1.0535)" font-size="17.30" font-style="italic" stroke="#000" stroke-width="0.2">x</text>
<text transform="translate(441.41,19.83) rotate(0.07) scale(0.8816,0.9789)" font-size="12.60" stroke="#000" stroke-width="0.14">2</text>
<text transform="translate(448.76,26.74) rotate(0.07) scale(0.8800,1.0635)" font-size="17.30" stroke="#000" stroke-width="0.2">s</text>
<text transform="translate(457.53,26.69) rotate(0.07) scale(0.8800,1.0695)" font-size="17.30" stroke="#000" stroke-width="0.2">i</text>
<text transform="translate(461.71,26.70) rotate(0.07) scale(1.1063,1.0496)" font-size="17.30" stroke="#000" stroke-width="0.2">n</text>
<text transform="translate(472.69,25.37) rotate(0.07) scale(0.6796,0.9489)" font-size="17.30" stroke="#000" stroke-width="0.5">(</text>
<text transform="translate(479.95,26.66) rotate(0.07) scale(0.8800,1.0656)" font-size="17.30" stroke="#000" stroke-width="0.2">1</text>
<text transform="translate(488.96,27.97) rotate(0.07) scale(1.1504,1.1181)" font-size="17.30" stroke="#000" stroke-width="0.2">/</text>
<text transform="translate(495.56,26.81) rotate(0.07) scale(1.0302,1.0592)" font-size="17.30" font-style="italic" stroke="#000" stroke-width="0.2">x</text>
<text transform="translate(506.46,25.22) rotate(0.07) scale(0.7297,0.9364)" font-size="17.30" stroke="#000" stroke-width="0.5">)</text>
<text transform="translate(518.01,25.32) rotate(0.07) scale(0.6827,0.9443)" font-size="17.30" stroke="#000" stroke-width="0.5">(</text>
<text transform="translate(523.02,26.79) rotate(0.07) scale(0.9277,1.0423)" font-size="17.30" stroke="#000" stroke-width="0.2">c</text>
<text transform="translate(531.84,26.66) rotate(0.07) scale(1.0776,1.0516)" font-size="17.30" stroke="#000" stroke-width="0.2">o</text>
<text transform="translate(542.19,26.68) rotate(0.07) scale(1.0710,1.0379)" font-size="17.30" stroke="#000" stroke-width="0.2">n</text>
<text transform="translate(558.47,26.82) rotate(0.07) scale(1.1500,1.0902)" font-size="17.30" font-style="italic">f</text>
<text transform="translate(564.88,25.20) rotate(0.07) scale(0.6547,0.9460)" font-size="17.30" stroke="#000" stroke-width="0.5">(</text>
<text transform="translate(571.24,26.76) rotate(0.07) scale(1.0484,1.0598)" font-size="17.30" stroke="#000" stroke-width="0.2">0</text>
<text transform="translate(582.56,25.30) rotate(0.07) scale(0.7198,0.9591)" font-size="17.30" stroke="#000" stroke-width="0.5">)</text>
<text transform="translate(591.50,26.73) rotate(0.07) scale(1.2324,0.9538)" font-size="17.30" stroke="#000" stroke-width="0.2">=</text>
<text transform="translate(608.16,26.63) rotate(0.07) scale(1.0371,1.0540)" font-size="17.30" stroke="#000" stroke-width="0.2">0</text>
<text transform="translate(620.19,25.34) rotate(0.07) scale(0.7574,0.9421)" font-size="17.30" stroke="#000" stroke-width="0.5">)</text>
<text transform="translate(134.31,520.15) rotate(0.07) scale(1.2214,1.1908)" font-size="14.40">−</text>
<text transform="translate(144.81,518.54) rotate(0.07) scale(1.0743,0.9528)" font-size="14.40" stroke="#000" stroke-width="0.14">0.4</text>
<text transform="translate(289.31,520.15) rotate(0.07) scale(1.2214,1.1908)" font-size="14.40">−</text>
<text transform="translate(299.86,518.84) rotate(0.07) scale(1.0710,0.9634)" font-size="14.40" stroke="#000" stroke-width="0.14">0.2</text>
<text transform="translate(450.38,518.79) rotate(0.07) scale(1.0061,0.9572)" font-size="14.40" stroke="#000" stroke-width="0.14">0.0</text>
<text transform="translate(605.42,518.82) rotate(0.07) scale(1.0020,0.9733)" font-size="14.40" stroke="#000" stroke-width="0.14">0.2</text>
<text transform="translate(760.50,518.84) rotate(0.07) scale(0.9956,0.9634)" font-size="14.40" stroke="#000" stroke-width="0.14">0.4</text>
<text transform="translate(42.12,41.60) rotate(0.07) scale(1.0152,0.9493)" font-size="14.40" stroke="#000" stroke-width="0.14">0.3</text>
<text transform="translate(42.14,118.60) rotate(0.07) scale(1.0176,0.9493)" font-size="14.40" stroke="#000" stroke-width="0.14">0.2</text>
<text transform="translate(42.09,195.69) rotate(0.07) scale(1.0055,0.9586)" font-size="14.40" stroke="#000" stroke-width="0.14">0.1</text>
<text transform="translate(42.12,272.60) rotate(0.07) scale(1.0109,0.9493)" font-size="14.40" stroke="#000" stroke-width="0.14">0.0</text>
<text transform="translate(30.33,350.97) rotate(0.07) scale(1.2405,1.1945)" font-size="14.40">−</text>
<text transform="translate(40.96,349.69) rotate(0.07) scale(1.0584,0.9586)" font-size="14.40" stroke="#000" stroke-width="0.14">0.1</text>
<text transform="translate(30.33,427.97) rotate(0.07) scale(1.2405,1.1945)" font-size="14.40">−</text>
<text transform="translate(40.96,426.69) rotate(0.07) scale(1.0710,0.9586)" font-size="14.40" stroke="#000" stroke-width="0.14">0.2</text>
<text transform="translate(30.33,504.97) rotate(0.07) scale(1.2405,1.1945)" font-size="14.40">−</text>
<text transform="translate(40.86,503.60) rotate(0.07) scale(1.0759,0.9493)" font-size="14.40" stroke="#000" stroke-width="0.14">0.3</text>
<text transform="translate(456.95,538.73) rotate(0.07) scale(1.1245,1.0224)" font-size="14.40" stroke="#000" stroke-width="0.14">x</text>
<text transform="translate(427.01,406.00) rotate(0.07) scale(1.1500,1.0536)" font-size="14.40" font-style="italic">f</text>
<text transform="translate(431.56,405.01) rotate(0.07) scale(0.6606,0.9507)" font-size="14.40" stroke="#000" stroke-width="0.42">(</text>
<text transform="translate(436.26,406.02) rotate(0.07) scale(1.0504,1.0422)" font-size="14.40" font-style="italic" stroke="#000" stroke-width="0.14">x</text>
<text transform="translate(445.00,404.83) rotate(0.07) scale(0.7159,0.9317)" font-size="14.40" stroke="#000" stroke-width="0.42">)</text>
<text transform="translate(452.29,405.11) rotate(0.07) scale(1.2605,0.8572)" font-size="14.40" stroke="#000" stroke-width="0.14">=</text>
<text transform="translate(466.10,406.02) rotate(0.07) scale(1.0280,1.0398)" font-size="14.40" font-style="italic" stroke="#000" stroke-width="0.14">x</text>
<text transform="translate(475.27,400.60) rotate(0.07) scale(0.9119,1.0101)" font-size="10.60" stroke="#000" stroke-width="0.14">2</text>
<text transform="translate(482.06,405.78) rotate(0.07) scale(0.9154,1.0206)" font-size="14.40" stroke="#000" stroke-width="0.14">s</text>
<text transform="translate(489.24,406.14) rotate(0.07) scale(0.9602,1.0899)" font-size="14.40" stroke="#000" stroke-width="0.14">i</text>
<text transform="translate(492.64,405.94) rotate(0.07) scale(1.1289,1.0395)" font-size="14.40" stroke="#000" stroke-width="0.14">n</text>
<text transform="translate(502.49,404.77) rotate(0.07) scale(0.7381,0.9171)" font-size="14.40" stroke="#000" stroke-width="0.42">(</text>
<text transform="translate(507.95,405.95) rotate(0.07) scale(0.9077,0.9987)" font-size="14.40" stroke="#000" stroke-width="0.14">1</text>
<text transform="translate(515.98,407.15) rotate(0.07) scale(1.1833,1.0686)" font-size="14.40" stroke="#000" stroke-width="0.14">/</text>
<text transform="translate(521.14,406.10) rotate(0.07) scale(1.0544,1.0462)" font-size="14.40" font-style="italic" stroke="#000" stroke-width="0.14">x</text>
<text transform="translate(530.11,404.88) rotate(0.07) scale(0.7636,0.9622)" font-size="14.40" stroke="#000" stroke-width="0.42">)</text>
<text transform="translate(426.31,433.24) rotate(0.07) scale(1.1886,1.2411)" font-size="14.40" stroke="#000" stroke-width="0.14">+</text>
<text transform="translate(437.26,432.08) rotate(0.07) scale(1.0814,1.0520)" font-size="14.40" font-style="italic" stroke="#000" stroke-width="0.14">x</text>
<text transform="translate(446.28,426.60) rotate(0.07) scale(0.8889,1.0107)" font-size="10.60" stroke="#000" stroke-width="0.14">2</text>
<text transform="translate(426.53,458.22) rotate(0.07) scale(1.1623,0.9732)" font-size="14.40" stroke="#000" stroke-width="0.14">−</text>
<text transform="translate(437.35,458.28) rotate(0.07) scale(1.0498,1.0769)" font-size="14.40" font-style="italic" stroke="#000" stroke-width="0.14">x</text>
<text transform="translate(446.34,452.76) rotate(0.07) scale(0.8874,1.0314)" font-size="10.60" stroke="#000" stroke-width="0.14">2</text>
<text transform="translate(426.55,480.56) rotate(0.07) scale(0.6629,0.9194)" font-size="14.40" stroke="#000" stroke-width="0.42">(</text>
<text transform="translate(431.22,481.81) rotate(0.07) scale(1.0845,0.9776)" font-size="14.40" stroke="#000" stroke-width="0.14">0</text>
<text transform="translate(439.21,482.17) rotate(0.07) scale(1.4153,0.9200)" font-size="14.40" stroke="#000" stroke-width="0.14">,</text>
<text transform="translate(447.34,481.64) rotate(0.07) scale(1.0502,0.9795)" font-size="14.40" stroke="#000" stroke-width="0.14">0</text>
<text transform="translate(456.90,480.60) rotate(0.07) scale(0.7110,0.9207)" font-size="14.40" stroke="#000" stroke-width="0.42">)</text>
<text transform="translate(19.85,272.45) rotate(-90) scale(1.04,1.05)" font-size="14.40">y</text>
</g>
</svg>
</body></html>
